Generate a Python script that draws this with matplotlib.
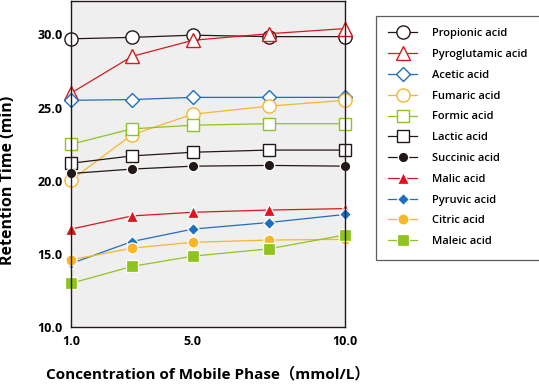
import matplotlib
matplotlib.use("Agg")
import matplotlib.pyplot as plt

plt.rcParams['font.family'] = ['Open Sans', 'Noto Sans CJK JP', 'DejaVu Sans']

conc = [1.0, 3.0, 5.0, 7.5, 10.0]

names = ["Propionic acid", "Pyroglutamic acid", "Acetic acid", "Fumaric acid",
         "Formic acid", "Lactic acid", "Succinic acid", "Malic acid",
         "Pyruvic acid", "Citric acid", "Maleic acid"]

propionic = [29.7, 29.8, 29.95, 29.85, 29.85]
pyroglutamic = [26.0, 28.5, 29.6, 30.05, 30.4]
acetic = [25.5, 25.55, 25.7, 25.7, 25.7]
fumaric = [20.05, 23.15, 24.55, 25.1, 25.5]
formic = [22.5, 23.55, 23.8, 23.9, 23.9]
lactic = [21.2, 21.7, 21.95, 22.1, 22.1]
succinic = [20.5, 20.8, 21.0, 21.05, 21.0]
malic = [16.7, 17.6, 17.85, 18.0, 18.1]
pyruvic = [14.35, 15.85, 16.7, 17.15, 17.7]
citric = [14.6, 15.4, 15.8, 15.95, 16.0]
maleic = [13.0, 14.15, 14.85, 15.35, 16.3]

series = [propionic, pyroglutamic, acetic, fumaric, formic, lactic,
          succinic, malic, pyruvic, citric, maleic]

black = "#231815"
red = "#d7191f"
blue = "#1f6fc0"
orange = "#f8b62b"
green = "#8fc31f"

# (colour, marker, filled, size)
styles = [
    (black, "o", False, 9.5),
    (red, "^", False, 10),
    (blue, "D", False, 7),
    (orange, "o", False, 9.5),
    (green, "s", False, 9),
    (black, "s", False, 9),
    (black, "o", True, 7.5),
    (red, "^", True, 8),
    (blue, "D", True, 6),
    (orange, "o", True, 8),
    (green, "s", True, 8),
]

fig = plt.figure(figsize=(5.39, 3.89), dpi=100)
ax = fig.add_axes([0.132, 0.159, 0.508, 0.839])
ax.set_facecolor("#efefef")

handles = []
for name, vals, (c, m, filled, ms) in zip(names, series, styles):
    if filled:
        h, = ax.plot(conc, vals, color=c, lw=0.9, marker=m, ms=ms,
                     markerfacecolor=c, markeredgecolor="white", markeredgewidth=0.9,
                     label=name)
    else:
        h, = ax.plot(conc, vals, color=c, lw=0.9, marker=m, ms=ms,
                     markerfacecolor="white", markeredgecolor=c, markeredgewidth=1.0,
                     label=name)
    h.set_clip_on(False)
    handles.append(h)

ax.set_xlim(1.0, 10.0)
ax.set_ylim(10.0, 32.3)
ax.set_xticks([1.0, 5.0, 10.0])
ax.set_xticklabels(["1.0", "5.0", "10.0"])
ax.set_yticks([10, 15, 20, 25, 30])
ax.set_yticklabels(["10.0", "15.0", "20.0", "25.0", "30.0"])
ax.tick_params(length=0, labelsize=9, pad=6)
for lab in ax.get_xticklabels() + ax.get_yticklabels():
    lab.set_fontweight("bold")
for sp in ax.spines.values():
    sp.set_color(black)
    sp.set_linewidth(1.0)

ax.set_ylabel("Retention Time (min)", fontsize=11.5, fontweight="bold")
ax.yaxis.set_label_coords(-0.2, 0.45)
ax.set_xlabel("Concentration of Mobile Phase（mmol/L）", fontsize=11,
              fontweight="bold", labelpad=13)

leg = fig.legend(handles=handles, loc="upper left",
                 bbox_to_anchor=(0.697, 0.96), frameon=True, fancybox=False,
                 prop={"size": 8, "weight": "semibold"},
                 handlelength=2.6, labelspacing=0.88,
                 borderpad=1.15, handletextpad=1.3, borderaxespad=0)
leg.get_frame().set_edgecolor("#333333")
leg.get_frame().set_linewidth(0.9)

fig.savefig("out.png", dpi=100)
